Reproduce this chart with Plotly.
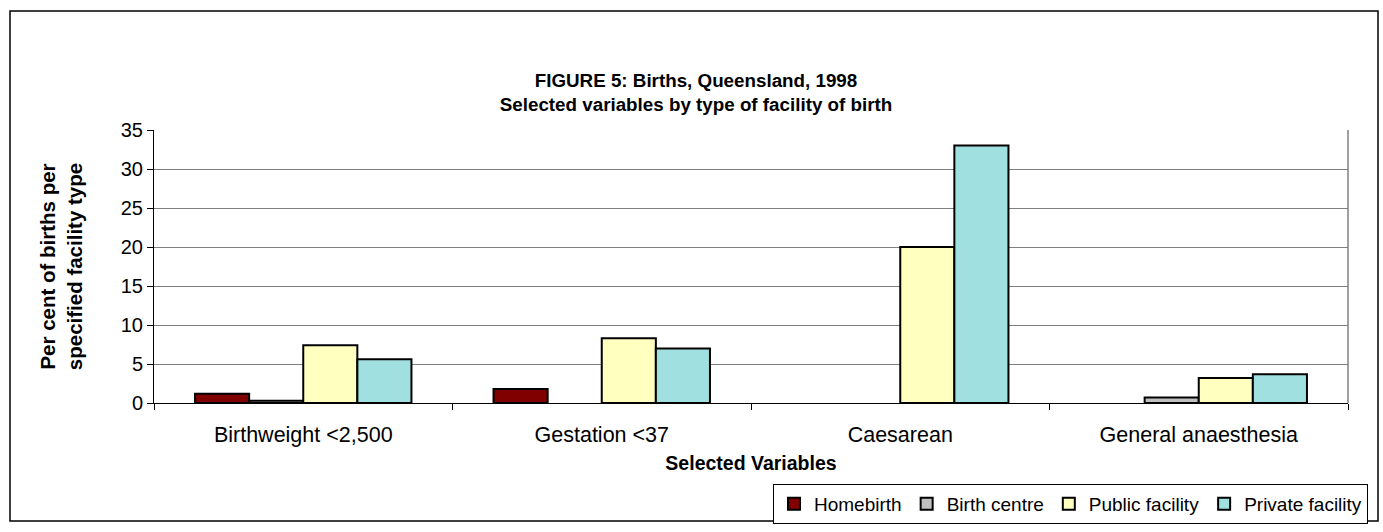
import plotly.graph_objects as go

categories = ["Birthweight <2,500", "Gestation <37", "Caesarean", "General anaesthesia"]
series_names = ["Homebirth", "Birth centre", "Public facility", "Private facility"]
homebirth = [1.2, 1.8, 0.0, 0.0]
birth_centre = [0.3, 0.0, 0.0, 0.7]
public_facility = [7.4, 8.3, 20.0, 3.2]
private_facility = [5.6, 7.0, 33.0, 3.7]
y_ticks = [0, 5, 10, 15, 20, 25, 30, 35]

colors = ["#800000", "#C0C0C0", "#FFFFC0", "#A0E0E0"]
values = [homebirth, birth_centre, public_facility, private_facility]

W, H = 1383, 532
L, R, T, B = 154, 1348, 130, 403
pw, ph = R - L, B - T

fig = go.Figure()
for name, vals, c in zip(series_names, values, colors):
    fig.add_trace(go.Bar(x=categories, y=vals, name=name,
                         marker=dict(color=c, line=dict(color="black",
                                     width=[2 if v > 0 else 0 for v in vals]))))

def px(x):
    return (x - L) / pw

def py(y):
    return (B - y) / ph

fig.update_layout(
    width=W, height=H,
    margin=dict(l=L, r=W - R, t=T, b=H - B, autoexpand=False),
    paper_bgcolor="white", plot_bgcolor="white",
    font=dict(family="Liberation Sans, Arial, sans-serif", size=20, color="black"),
    barmode="group", bargap=0.275, bargroupgap=0,
    title=dict(text="<b>FIGURE 5: Births, Queensland, 1998<br>Selected variables by type of facility of birth</b>",
               x=696 / W, xref="container", xanchor="center", y=1 - 87 / H, yref="container",
               yanchor="middle", font=dict(size=18.8)),
    showlegend=True,
    legend=dict(orientation="h", xref="container", yref="container",
                x=1368 / W, xanchor="right", y=1 - 484 / H, yanchor="top",
                bordercolor="black", borderwidth=1, font=dict(size=19),
                itemwidth=30, tracegroupgap=0, traceorder="normal"),
    xaxis=dict(showline=True, linecolor="black", linewidth=1, ticks="outside",
               tickson="boundaries", ticklen=6, tickcolor="black", ticklabelstandoff=12,
               title=dict(text="<b>Selected Variables</b>", standoff=10, font=dict(size=19.5)),
               tickfont=dict(size=21.5)),
    yaxis=dict(range=[0, 35], tickvals=y_ticks, showline=True, linecolor="black", linewidth=1,
               ticks="outside", ticklen=6, tickcolor="black",
               showgrid=True, gridcolor="#808080", gridwidth=1,
               title=dict(text="<b>Per cent of births per<br>specified facility type</b>",
                          standoff=32, font=dict(size=20.5)),
               tickfont=dict(size=20), zeroline=False),
    shapes=[
        dict(type="rect", xref="paper", yref="paper", x0=px(10), x1=px(1378), y0=py(521), y1=py(11),
             line=dict(color="black", width=1.5), fillcolor="rgba(0,0,0,0)", layer="below"),
        dict(type="line", xref="paper", yref="paper", x0=1, x1=1, y0=0, y1=1,
             line=dict(color="#808080", width=1.5)),
    ],
)

fig.write_html("out.html", config={"displayModeBar": False},
               post_script="document.body.style.margin='0px';")
